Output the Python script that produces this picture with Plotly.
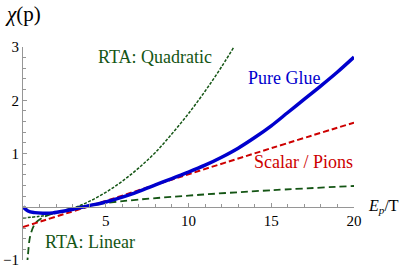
import plotly.graph_objects as go

# ---- data ----
glue_x = [0, 0.3, 0.7, 1.2, 1.8, 2.5, 3.2, 4.0, 5.0, 6.0, 7.0, 8.0, 9.0, 10.0,
          11.0, 12.0, 13.0, 14.0, 15.0, 16.0, 17.0, 18.0, 19.0, 20.0]
glue_y = [0, -0.08, -0.11, -0.12, -0.115, -0.08, -0.035, 0.02, 0.09, 0.18, 0.29,
          0.41, 0.53, 0.65, 0.78, 0.93, 1.1, 1.3, 1.52, 1.77, 2.02, 2.27, 2.53, 2.81]

pion_x = [0, 5, 10, 15, 20]
pion_y = [-0.38, 0.11, 0.61, 1.1, 1.58]

rta_lin_x = [0.2, 0.3, 0.45, 0.75, 1.1, 1.6, 2.4, 3.2, 4.7, 7.0, 10.7, 15.0, 20.0]
rta_lin_y = [-1.3, -0.9, -0.53, -0.31, -0.22, -0.15, -0.075, -0.01, 0.06, 0.135,
             0.225, 0.31, 0.39]

rta_quad_x = [0, 1, 2, 3, 4, 5, 6, 7, 8, 9, 10, 11, 12, 13]
rta_quad_y = [-0.21, -0.18, -0.12, -0.03, 0.1, 0.27, 0.48, 0.73, 1.02, 1.37,
              1.75, 2.17, 2.63, 3.13]

x_ticks = [5, 10, 15, 20]
x_minor = [v for v in range(1, 21) if v % 5 != 0]
y_ticks = [-1, 1, 2, 3]
y_ticktext = ["\u22121", "1", "2", "3"]
y_minor = [round(-1 + 0.2 * i, 1) for i in range(21)]

BLUE = "rgb(0,0,205)"
RED = "rgb(205,0,0)"
GREEN = "rgb(20,85,20)"
AXIS = "rgb(150,150,150)"
SERIF = "Liberation Serif, Times New Roman, serif"

fig = go.Figure()
fig.add_trace(go.Scatter(x=rta_quad_x, y=rta_quad_y, mode="lines",
                         line=dict(color=GREEN, width=1.5, dash="3px,1.5px", shape="spline")))
fig.add_trace(go.Scatter(x=rta_lin_x, y=rta_lin_y, mode="lines",
                         line=dict(color=GREEN, width=1.8, dash="7px,4px", shape="spline")))
fig.add_trace(go.Scatter(x=pion_x, y=pion_y, mode="lines",
                         line=dict(color=RED, width=2, dash="6px,3px", shape="spline")))
fig.add_trace(go.Scatter(x=glue_x, y=glue_y, mode="lines",
                         line=dict(color=BLUE, width=3.5, shape="spline")))

fig.update_layout(
    width=400, height=268,
    margin=dict(l=22.5, r=46, t=47, b=7.75),
    plot_bgcolor="white", paper_bgcolor="white",
    showlegend=False,
    font=dict(family=SERIF, size=15, color="black"),
    xaxis=dict(range=[0, 20], anchor="free", position=0.25,
               showgrid=False, zeroline=False, showline=True, linecolor=AXIS, linewidth=1,
               tickmode="array", tickvals=x_ticks, ticks="inside", ticklen=4,
               tickcolor=AXIS, tickfont=dict(family=SERIF, size=15),
               ticklabeloverflow="allow",
               minor=dict(tickmode="array", tickvals=x_minor, ticks="inside",
                          ticklen=2.5, tickcolor=AXIS),
               automargin=False),
    yaxis=dict(range=[-1, 3], showgrid=False, zeroline=False, showline=True,
               linecolor=AXIS, linewidth=1,
               tickmode="array", tickvals=y_ticks, ticktext=y_ticktext,
               ticks="inside", ticklen=4, tickcolor=AXIS,
               tickfont=dict(family=SERIF, size=15),
               ticklabeloverflow="allow",
               minor=dict(tickmode="array", tickvals=y_minor, ticks="inside",
                          ticklen=2.5, tickcolor=AXIS),
               automargin=False),
)

data_ann = [
    dict(text="RTA: Quadratic", x=7.98, y=2.81, font=dict(size=18, color=GREEN)),
    dict(text="Pure Glue", x=15.78, y=2.42, font=dict(size=18, color=BLUE)),
    dict(text="Scalar / Pions", x=16.96, y=0.84, font=dict(size=18, color=RED)),
    dict(text="RTA: Linear", x=4.04, y=-0.66, font=dict(size=18, color=GREEN)),
]
for a in data_ann:
    a["font"]["family"] = SERIF
    fig.add_annotation(xref="x", yref="y", showarrow=False,
                       xanchor="center", yanchor="middle", **a)

paper_ann = [
    dict(text="<i>\u03c7</i>(p)", x=-0.061, y=1.155, font=dict(size=21, color="black")),
    dict(text="<i>E</i><sub><i>p</i></sub>/T", x=1.037, y=0.25,
         font=dict(size=16, color="black")),
]
for a in paper_ann:
    a["font"]["family"] = SERIF
    fig.add_annotation(xref="paper", yref="paper", showarrow=False,
                       xanchor="left", yanchor="middle", **a)

# remove the default 8px page margin so the 400x268 figure fills the window
fig.write_html("out.html", config={"displayModeBar": False},
               post_script="document.body.style.margin='0';document.body.style.overflow='hidden';")
